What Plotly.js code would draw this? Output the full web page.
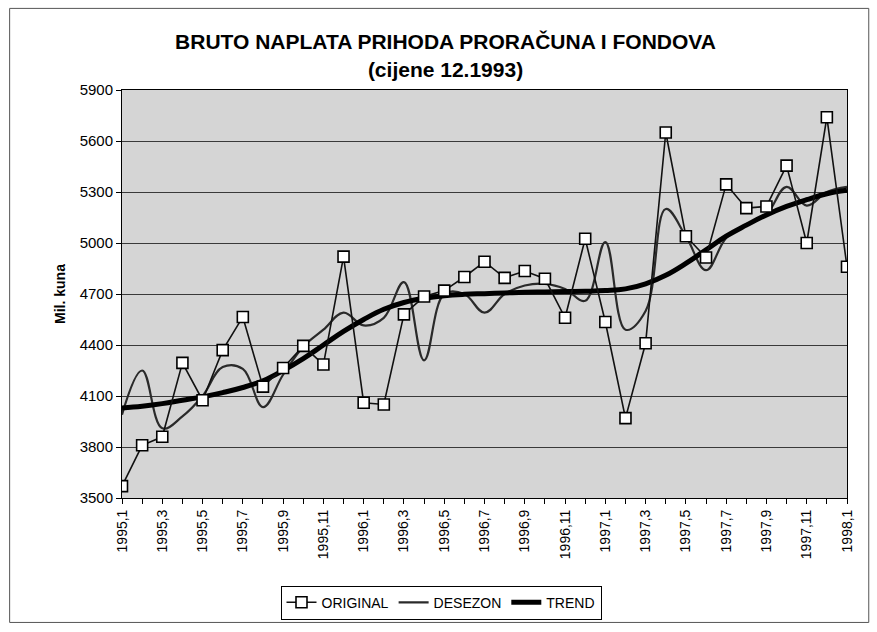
<!DOCTYPE html>
<html>
<head>
<meta charset="utf-8">
<script src="https://cdn.plot.ly/plotly-3.0.1.min.js"></script>
<style>html,body{margin:0;padding:0;background:#fff;}#chart{width:877px;height:632px;}</style>
</head>
<body>
<div id="chart"></div>
<script>
const months = ["1995,1","1995,2","1995,3","1995,4","1995,5","1995,6","1995,7","1995,8","1995,9","1995,10","1995,11","1995,12",
"1996,1","1996,2","1996,3","1996,4","1996,5","1996,6","1996,7","1996,8","1996,9","1996,10","1996,11","1996,12",
"1997,1","1997,2","1997,3","1997,4","1997,5","1997,6","1997,7","1997,8","1997,9","1997,10","1997,11","1997,12","1998,1"];

const original = [3570,3810,3860,4295,4075,4370,4565,4155,4265,4395,4285,4920,
4060,4050,4580,4685,4720,4800,4890,4795,4835,4790,4560,5025,
4535,3970,4410,5650,5040,4915,5345,5205,5215,5455,5000,5740,4860];

const desezon = [3990,4250,3910,3980,4100,4270,4260,4035,4225,4390,4490,4590,
4515,4560,4770,4310,4700,4700,4590,4700,4750,4760,4730,4660,
5005,4490,4600,5200,5040,4840,5030,5110,5170,5330,5220,5300,5330];

const trend = [4030,4040,4055,4075,4095,4120,4150,4190,4250,4320,4400,4480,
4550,4610,4650,4675,4690,4698,4702,4706,4710,4712,4714,4716,
4720,4730,4760,4810,4880,4960,5040,5105,5165,5215,5255,5290,5310];

const idx = months.map((m,i)=>i);
const tickText = months.map((m,i)=> i%2===0 ? m : "");

const data = [
  {x: idx, y: desezon, name: "DESEZON", type: "scatter", mode: "lines",
   line: {color: "#2a2a2a", width: 2.2, shape: "spline", smoothing: 1.1}, legendrank: 2},
  {x: idx, y: trend, name: "TREND", type: "scatter", mode: "lines",
   line: {color: "#000000", width: 5, shape: "spline", smoothing: 1.2}, legendrank: 3},
  {x: idx, y: original, name: "ORIGINAL", type: "scatter", mode: "lines+markers",
   line: {color: "#111111", width: 1.6},
   marker: {symbol: "square", size: 11, color: "#ffffff", line: {color: "#000000", width: 1.6}}, legendrank: 1}
];

const layout = {
  width: 877, height: 632,
  paper_bgcolor: "#ffffff",
  plot_bgcolor: "#d5d5d5",
  margin: {l: 122, r: 30, t: 90, b: 131},
  font: {family: "Liberation Sans, Arial, sans-serif", color: "#000", size: 12},
  title: {text: "<b>BRUTO NAPLATA PRIHODA PRORAČUNA I FONDOVA</b><br><b>(cijene 12.1993)</b>",
          x: 0.508, xref: "container", xanchor: "center", y: 0.922, yref: "container", yanchor: "top",
          font: {family: "Liberation Sans, Arial, sans-serif", size: 21, color: "#000"}},
  showlegend: true,
  legend: {orientation: "h", x: 0.44, xanchor: "center", y: -0.215, yanchor: "top",
           bordercolor: "#000", borderwidth: 1, bgcolor: "#ffffff",
           font: {family: "Liberation Sans, Arial, sans-serif", size: 14}, traceorder: "normal"},
  xaxis: {range: [0, 36], tickmode: "array", tickvals: idx, ticktext: tickText,
          tickangle: -90, ticks: "outside", ticklen: 5, tickcolor: "#000",
          showgrid: false, zeroline: false, showline: true, linecolor: "#000", linewidth: 1, mirror: true,
          tickfont: {size: 14}},
  yaxis: {range: [3500, 5900], tickmode: "linear", tick0: 3500, dtick: 300,
          ticks: "outside", ticklen: 5, tickcolor: "#000",
          showgrid: true, gridcolor: "#3a3a3a", gridwidth: 1, zeroline: false,
          showline: true, linecolor: "#000", linewidth: 1, mirror: true,
          tickfont: {size: 15},
          title: {text: "<b>Mil. kuna</b>", font: {size: 14}, standoff: 10}},
  shapes: [
    {type: "rect", xref: "paper", yref: "paper", x0: -0.155, x1: 1.03, y0: -0.305, y1: 1.2,
     line: {color: "#555", width: 1}, fillcolor: "rgba(0,0,0,0)", layer: "below"}
  ]
};

Plotly.newPlot("chart", data, layout, {displayModeBar: false, staticPlot: true});
</script>
</body>
</html>
